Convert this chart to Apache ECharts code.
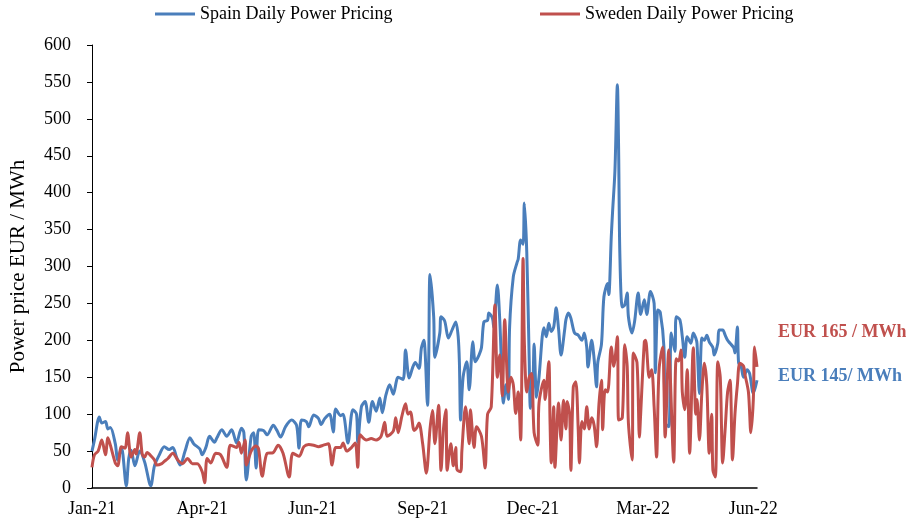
<!DOCTYPE html>
<html><head><meta charset="utf-8">
<script src="https://cdn.jsdelivr.net/npm/echarts@6/dist/echarts.min.js"></script>
<style>html,body{margin:0;padding:0;background:#fff}#c{width:906px;height:522px}</style>
</head><body><div id="c"></div>
<script>
// Days since 2021-01-01
const spainDays = [0,2,6,8,11,13,15,19,21,24,28,30,32,35,39,43,48,51,55,59,63,66,69,72,76,80,83,88,90,93,96,100,102,106,110,114,118,122,124,126,130,132,134,136,140,143,148,151,154,158,163,167,169,171,175,177,181,185,187,190,194,197,199,203,205,209,213,216,217,220,223,226,229,232,235,237,240,243,246,250,254,256,259,262,264,267,269,271,274,275,276,279,280,284,285,288,291,294,297,299,300,301,303,306,308,311,313,316,318,320,323,324,327,328,331,333,336,338,340,341,344,347,348,350,352,353,355,357,358,360,361,363,365,369,371,373,375,377,379,381,383,386,387,389,391,394,397,400,402,404,405,408,410,412,413,416,418,421,422,424,425,427,429,430,431,433,435,437,438,441,443,446,448,451,453,456,459,460,462,464,467,468,471,473,476,477,480,482,484,486,489,491,493,494,496,498,500,502,504,507,508,511,512,515,517,519,521,524,525,527,528,530,532,535,537,540,543];
const spainPrices = [50,65,96,88,90,80,82,60,38,55,3,40,51,30,50,35,3,30,45,56,52,55,42,31,50,68,60,53,45,55,70,62,68,79,70,79,61,81,75,11,70,75,27,79,78,72,85,78,69,83,92,85,54,92,90,83,99,94,86,94,100,76,107,98,100,61,106,100,62,110,117,89,117,104,122,102,126,140,127,150,147,187,149,164,170,162,190,200,112,180,289,232,177,210,232,226,203,214,225,205,170,92,150,171,133,198,171,180,190,225,227,237,230,218,275,226,115,140,120,218,286,305,310,336,330,386,320,173,108,140,195,123,150,217,205,223,212,218,244,215,180,215,228,237,230,210,207,200,210,190,164,200,175,137,170,195,259,277,262,340,372,430,546,460,318,245,248,264,232,210,225,264,235,255,235,266,250,156,241,238,191,88,83,210,185,232,228,205,177,205,196,210,203,196,128,203,200,207,198,190,180,196,214,214,207,200,196,190,183,218,169,165,150,160,155,128,146];
const swedenDays = [0,2,5,8,11,13,15,19,21,24,27,29,32,35,36,39,41,43,45,49,51,53,57,59,62,66,70,74,78,82,86,90,92,94,97,101,105,110,113,118,120,122,125,126,130,134,136,139,143,148,152,156,161,164,169,173,177,181,185,189,193,196,199,203,205,208,212,215,217,219,224,228,232,236,239,241,246,248,250,253,256,258,260,263,265,267,270,273,276,278,280,283,285,287,289,290,293,295,297,298,301,302,305,308,309,312,314,318,321,323,326,329,331,333,335,337,340,342,344,346,348,350,352,353,355,357,359,361,364,365,369,370,373,374,375,377,378,381,383,385,387,388,390,391,393,395,397,398,400,402,404,406,408,410,412,414,416,417,419,421,424,426,429,430,433,435,437,438,441,442,445,447,448,451,452,455,457,459,461,463,466,467,468,471,472,475,477,479,481,482,484,486,488,491,493,494,496,498,500,502,504,506,507,509,511,513,515,517,519,521,523,525,527,529,532,533,536,538,540,541,543];
const swedenPrices = [28,45,50,65,45,68,58,34,30,56,54,75,42,52,46,75,46,42,48,42,38,31,33,36,40,47,38,33,40,33,33,22,7,40,34,47,45,28,58,55,62,47,65,31,50,57,53,16,47,48,58,47,15,47,43,56,59,58,56,58,60,31,55,55,61,50,55,61,28,72,65,67,65,70,89,70,77,95,75,97,114,100,103,78,81,88,60,20,80,105,60,112,24,80,106,24,60,30,55,25,22,50,110,60,106,55,83,70,27,100,110,248,150,180,125,228,130,150,140,101,130,65,311,200,130,150,155,75,58,115,146,120,171,90,34,110,28,115,65,119,80,117,100,24,137,144,80,34,90,80,110,80,95,85,56,115,146,79,133,130,191,165,205,92,95,194,165,88,38,183,170,69,100,198,200,150,160,110,42,160,191,140,69,187,160,35,175,172,187,130,106,160,47,190,100,120,65,130,169,140,47,100,24,15,171,150,34,80,130,146,38,100,140,169,165,155,130,75,120,191,164];
const xTickDays = [0,90,180,270,360,450,540];
const months = ['Jan','Feb','Mar','Apr','May','Jun','Jul','Aug','Sep','Oct','Nov','Dec'];
const spainName = 'Spain Daily Power Pricing';
const swedenName = 'Sweden Daily Power Pricing';

const zip = (a,b) => a.map((d,i)=>[d,b[i]]);
const fmtDay = d => {
  const t = new Date(Date.UTC(2021,0,1) + d*86400000);
  return months[t.getUTCMonth()] + '-' + String(t.getUTCFullYear()).slice(2);
};
const font = 'Liberation Serif';
const chart = echarts.init(document.getElementById('c'));
chart.setOption({
  animation:false,
  textStyle:{fontFamily:font},
  grid:{left:87,right:149,top:45,bottom:34,containLabel:false},
  legend:[
    {left:150,top:0,icon:'rect',itemWidth:40,itemHeight:3,data:[spainName],textStyle:{fontFamily:font,fontSize:18,color:'#000'}},
    {left:535,top:0,icon:'rect',itemWidth:40,itemHeight:3,data:[swedenName],textStyle:{fontFamily:font,fontSize:18,color:'#000'}}
  ],
  xAxis:{type:'value',min:0,max:543,interval:90,
    axisLine:{lineStyle:{color:'#000',width:1.5}},axisTick:{show:false},splitLine:{show:false},
    axisLabel:{color:'#000',fontSize:18,fontFamily:font,margin:12,
      formatter:v=>xTickDays.indexOf(v)>=0?fmtDay(v):''}},
  yAxis:{type:'value',min:0,max:600,interval:50,
    name:'Power price EUR / MWh',nameLocation:'middle',nameGap:63,
    nameTextStyle:{color:'#000',fontSize:21,fontFamily:font},
    axisLine:{show:true,lineStyle:{color:'#000',width:1}},axisTick:{show:true,length:5,lineStyle:{color:'#000'}},
    splitLine:{show:false},
    axisLabel:{color:'#000',fontSize:18,fontFamily:font,margin:21}},
  series:[
    {name:spainName,type:'line',data:zip(spainDays,spainPrices),showSymbol:false,smooth:0.3,
      lineStyle:{color:'#4a7ebb',width:3},itemStyle:{color:'#4a7ebb'}},
    {name:swedenName,type:'line',data:zip(swedenDays,swedenPrices),showSymbol:false,smooth:0.3,
      lineStyle:{color:'#c0504d',width:3},itemStyle:{color:'#c0504d'}}
  ],
  graphic:[
    {type:'text',left:778,top:323,style:{text:'EUR 165 / MWh',fill:'#c0504d',font:'bold 18px "Liberation Serif"'}},
    {type:'text',left:778,top:367,style:{text:'EUR 145/ MWh',fill:'#4a7ebb',font:'bold 18px "Liberation Serif"'}}
  ]
});
</script></body></html>
